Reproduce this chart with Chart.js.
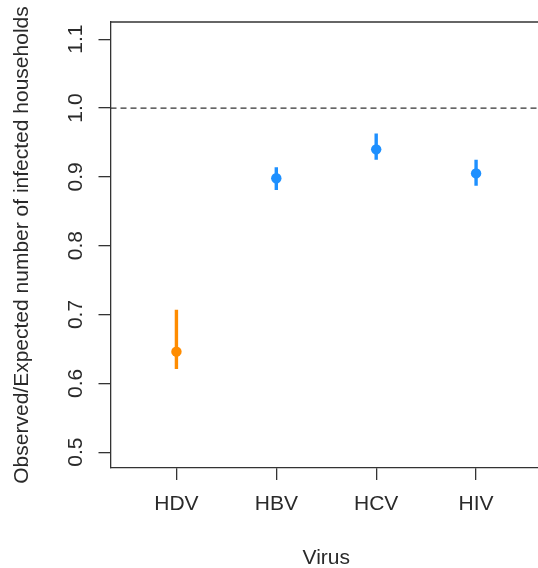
<!DOCTYPE html>
<html>
<head>
<meta charset="utf-8">
<script src="https://cdn.jsdelivr.net/npm/chart.js@4"></script>
<style>
  html, body { margin: 0; padding: 0; background: #ffffff; overflow: hidden; }
  #wrap { position: relative; width: 550px; height: 568px; }
</style>
</head>
<body>
<div id="wrap"><canvas id="c"></canvas></div>
<script>
// ---- data ----
const categories = ['HDV', 'HBV', 'HCV', 'HIV'];
const ratio      = [0.646, 0.898, 0.940, 0.905];
const lower      = [0.621, 0.881, 0.925, 0.887];
const upper      = [0.707, 0.914, 0.963, 0.925];
const pointColors = ['#FF8C00', '#1E90FF', '#1E90FF', '#1E90FF'];
const yTickValues = [0.5, 0.6, 0.7, 0.8, 0.9, 1.0, 1.1];
const referenceLevel = 1.0;
const xTitle = 'Virus';
const yTitle = 'Observed/Expected number of infected households';

const FONT = { family: '"Liberation Sans", Arial, sans-serif', size: 21 };
const INK = '#2a2a2a';
const XMIN = 0.34, XMAX = 4.66;

const datasets = [];
// error bars
categories.forEach((c, i) => {
  datasets.push({
    type: 'line',
    data: [{ x: i + 1, y: lower[i] }, { x: i + 1, y: upper[i] }],
    borderColor: pointColors[i],
    borderWidth: 3.4,
    pointRadius: 0,
    fill: false,
    order: 2
  });
});
// reference dashed line
datasets.push({
  type: 'line',
  data: [{ x: XMIN, y: referenceLevel }, { x: XMAX, y: referenceLevel }],
  borderColor: '#333333',
  borderWidth: 1.3,
  borderDash: [6, 4],
  pointRadius: 0,
  fill: false,
  order: 3
});
// points
datasets.push({
  type: 'scatter',
  data: categories.map((c, i) => ({ x: i + 1, y: ratio[i] })),
  pointBackgroundColor: pointColors,
  pointBorderColor: pointColors,
  pointRadius: 5.2,
  pointBorderWidth: 0,
  order: 1
});

const topBorder = {
  id: 'topBorder',
  afterDraw(chart) {
    const { ctx, chartArea } = chart;
    ctx.save();
    ctx.strokeStyle = '#333333';
    ctx.lineWidth = 1.3;
    ctx.beginPath();
    ctx.moveTo(chartArea.left, chartArea.top);
    ctx.lineTo(chart.width, chartArea.top);
    ctx.stroke();
    ctx.restore();
  }
};

new Chart(document.getElementById('c'), {
  type: 'scatter',
  data: { datasets },
  plugins: [topBorder],
  options: {
    responsive: true,
    maintainAspectRatio: false,
    animation: false,
    events: [],
    layout: { padding: { top: 22, right: 8, bottom: 0, left: 0 } },
    plugins: { legend: { display: false }, tooltip: { enabled: false } },
    scales: {
      x: {
        type: 'linear',
        min: XMIN,
        max: XMAX,
        afterBuildTicks(scale) { scale.ticks = categories.map((c, i) => ({ value: i + 1 })); },
        afterFit(scale) { scale.height = 100; },
        ticks: {
          callback: (v) => categories[Math.round(v) - 1] || '',
          font: FONT, color: INK, padding: 12, maxRotation: 0, autoSkip: false
        },
        grid: { display: true, drawOnChartArea: false, drawTicks: true, tickLength: 12, color: '#333333', lineWidth: 1.3 },
        border: { display: true, color: '#333333', width: 1.3 },
        title: { display: true, text: xTitle, font: FONT, color: INK, padding: { top: 0, bottom: -3 } }
      },
      y: {
        type: 'linear',
        min: 0.477,
        max: 1.125,
        afterBuildTicks(scale) { scale.ticks = yTickValues.map(v => ({ value: v })); },
        afterFit(scale) { scale.width = 110.5; },
        ticks: {
          callback: (v) => v.toFixed(1),
          font: FONT, color: INK, padding: 8,
          minRotation: 90, maxRotation: 90, crossAlign: 'center', autoSkip: false
        },
        grid: { display: true, drawOnChartArea: false, drawTicks: true, tickLength: 12, color: '#333333', lineWidth: 1.3 },
        border: { display: true, color: '#333333', width: 1.3 },
        title: { display: true, text: yTitle, font: FONT, color: INK, padding: { top: 10, bottom: 0 } }
      }
    }
  }
});
</script>
</body>
</html>
